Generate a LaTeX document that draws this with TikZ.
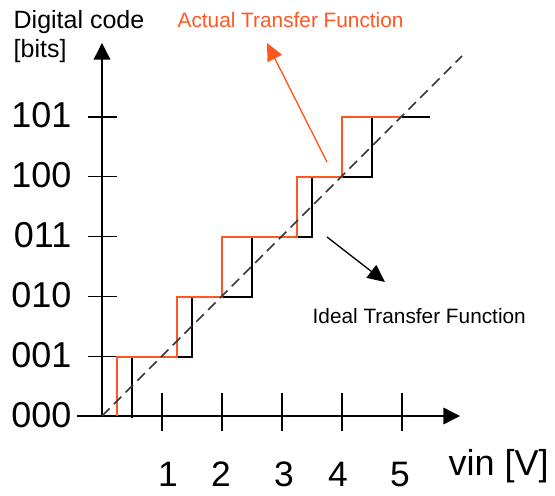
\documentclass[tikz,border=0pt]{standalone}
\usepackage{fontspec}
\setmainfont{Liberation Sans}
\usetikzlibrary{arrows.meta}
\definecolor{actualred}{RGB}{255,87,34}
\definecolor{dashgray}{RGB}{55,55,55}
\tikzset{
  axisarrow/.style={line width=1.1pt, -{Triangle[length=12.5pt,width=12.5pt]}},
  pointer/.style={line width=1pt, -{Triangle[length=13pt,width=12pt]}},
  codelabel/.style={inner sep=0pt, anchor=base east, font=\fontsize{27}{30}\selectfont},
  voltlabel/.style={inner sep=0pt, anchor=base, font=\fontsize{26.5}{30}\selectfont},
  smalltext/.style={inner sep=0pt, anchor=base west, font=\fontsize{15.6}{18}\selectfont},
}

\begin{document}
\begin{tikzpicture}[x=0.75pt, y=-0.75pt, line width=1pt]
			%%%%% START %%%%%
			\useasboundingbox (0,0) rectangle (555,495);
			
			% axes
			\coordinate (origin) at (102,416);
			\coordinate (xstart) at (77,416);
			\coordinate (xtip) at (460,416);
			\coordinate (ytip) at (102,43);
			\draw[axisarrow] (origin) -- (ytip);
			\draw[axisarrow] (xstart) -- (xtip);
			
			% code ticks and labels
			\foreach \code [count=\i from 0] in {000,001,010,011,100,101} {
				\draw (88,{416-59.8*\i}) -- (117,{416-59.8*\i});
				\node[codelabel] (code\i) at (72,{427-59.8*\i}) {\code};
			}
			
			% voltage ticks and labels
			\foreach \i in {1,...,5} {
				\draw (102+60*\i,393) -- (102+60*\i,431);
			}
			\foreach \v/\xpos in {1/168,2/221,3/284,4/338,5/400} {
				\node[voltlabel] (volt\v) at (\xpos,486) {\v};
			}
			
			\node[inner sep=0pt, anchor=base west, font=\fontsize{27}{30}\selectfont] (vin) at (448,475) {vin [V]};
			\node[inner sep=0pt, anchor=base west, font=\fontsize{18.75}{22}\selectfont] (codetext) at (13,29) {Digital code};
			\node[inner sep=0pt, anchor=base west, font=\fontsize{18.75}{22}\selectfont] (bitstext) at (13,58) {[bits]};
			
			% ideal staircase
			\draw (132,418) -- (132,357) -- (192,357) -- (192,297) -- (252,297) -- (252,237)
				-- (312,237) -- (312,177) -- (372,177) -- (372,117) -- (430,117);
			
			% actual staircase
			\draw[actualred] (117,416) -- (117,357) -- (177,357) -- (177,297) -- (222,297) -- (222,237)
				-- (297,237) -- (297,177) -- (342,177) -- (342,117) -- (402,117);
			
			% ideal line
			\coordinate (lineend) at (462,56);
			\draw[dashgray, line width=1.1pt, dash pattern=on 8pt off 4.5pt] (origin) -- (lineend);
			
			% labels with pointers
			\node[smalltext, text=actualred] (actualtext) at (177,28) {Actual Transfer Function};
			\node[smalltext] (idealtext) at (312,323) {Ideal Transfer Function};
			\coordinate (actualfrom) at (327,162);
			\coordinate (actualto) at (267,43);
			\draw[pointer, actualred] (actualfrom) -- (actualto);
			\coordinate (idealfrom) at (327,237);
			\coordinate (idealto) at (385,282);
			\draw[pointer] (idealfrom) -- (idealto);
			%%%%% END %%%%%
		\end{tikzpicture}
\end{document}
